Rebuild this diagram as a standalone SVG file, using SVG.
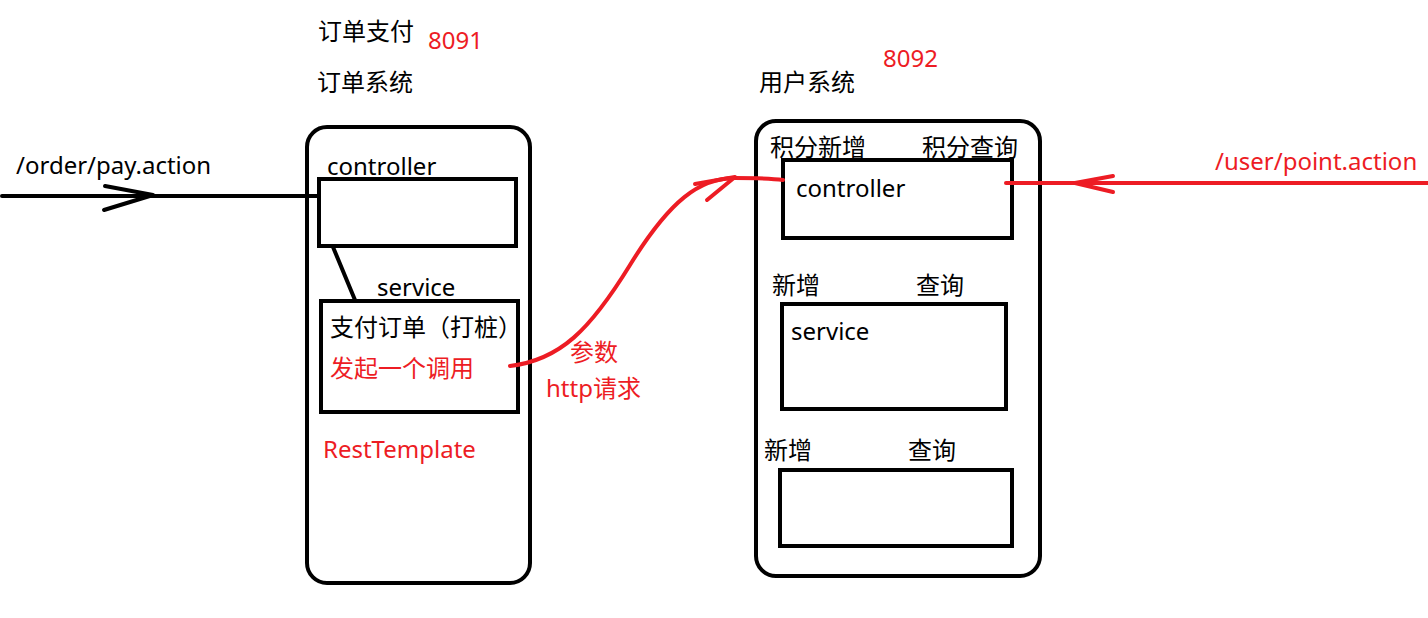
<svg xmlns="http://www.w3.org/2000/svg" width="1428" height="618" viewBox="0 0 1428 618">
<style>
text{font-family:"Noto Sans","Noto Sans CJK SC",sans-serif;font-size:24px;fill:#000}
.r{fill:#ed1c24}
.box{fill:none;stroke:#000;stroke-width:4}
.blk{fill:none;stroke:#000;stroke-width:4;stroke-linecap:round;stroke-linejoin:round}
.red{fill:none;stroke:#ed1c24;stroke-width:4;stroke-linecap:round;stroke-linejoin:round}
</style>
<rect width="1428" height="618" fill="#fff"/>
<g id="order-system">
<text x="318" y="40">订单支付</text>
<text x="428" y="49" class="r">8091</text>
<text x="317" y="91">订单系统</text>
<rect x="307" y="127" width="223" height="456" rx="20" class="box"/>
</g>
<g id="order-controller">
<text x="327" y="175">controller</text>
<rect x="319" y="179" width="197" height="67" class="box"/>
</g>
<g id="order-service">
<text x="377" y="296">service</text>
<rect x="321" y="301" width="197" height="111" class="box"/>
<text x="330" y="336">支付订单（打桩）</text>
<text x="330" y="377" class="r">发起一个调用</text>
</g>
<text x="323" y="458" class="r">RestTemplate</text>
<g id="user-system">
<text x="883" y="67" class="r">8092</text>
<text x="759" y="91">用户系统</text>
<rect x="756" y="121" width="284" height="455" rx="20" class="box"/>
</g>
<g id="user-controller">
<text x="770" y="156">积分新增</text>
<text x="922" y="156">积分查询</text>
<rect x="783" y="160" width="229" height="78" class="box"/>
<text x="796" y="197">controller</text>
</g>
<g id="user-service">
<text x="772" y="294">新增</text>
<text x="916" y="294">查询</text>
<rect x="782" y="304" width="224" height="105" class="box"/>
<text x="791" y="340">service</text>
</g>
<g id="user-dao">
<text x="764" y="459">新增</text>
<text x="908" y="459">查询</text>
<rect x="780" y="470" width="232" height="76" class="box"/>
</g>
<g id="connectors">
<path d="M2 196 H318" class="blk"/>
<path d="M105 186 L153 195 L104 210" class="blk"/>
<path d="M333 247 L355 300" class="blk"/>
<path d="M510 366 C560 360 590 330 630 265 C670 200 700 178 735 178 C760 178 770 178 783 180" class="red"/>
<path d="M695 184 L735 177 L707 200" class="red"/>
<path d="M1006 183 H1428" class="red"/>
<path d="M1113 176 L1075 183 L1113 192" class="red"/>
</g>
<text x="16" y="174">/order/pay.action</text>
<text x="570" y="361" class="r">参数</text>
<text x="546" y="397" class="r">http请求</text>
<text x="1215" y="170" class="r">/user/point.action</text>
</svg>
